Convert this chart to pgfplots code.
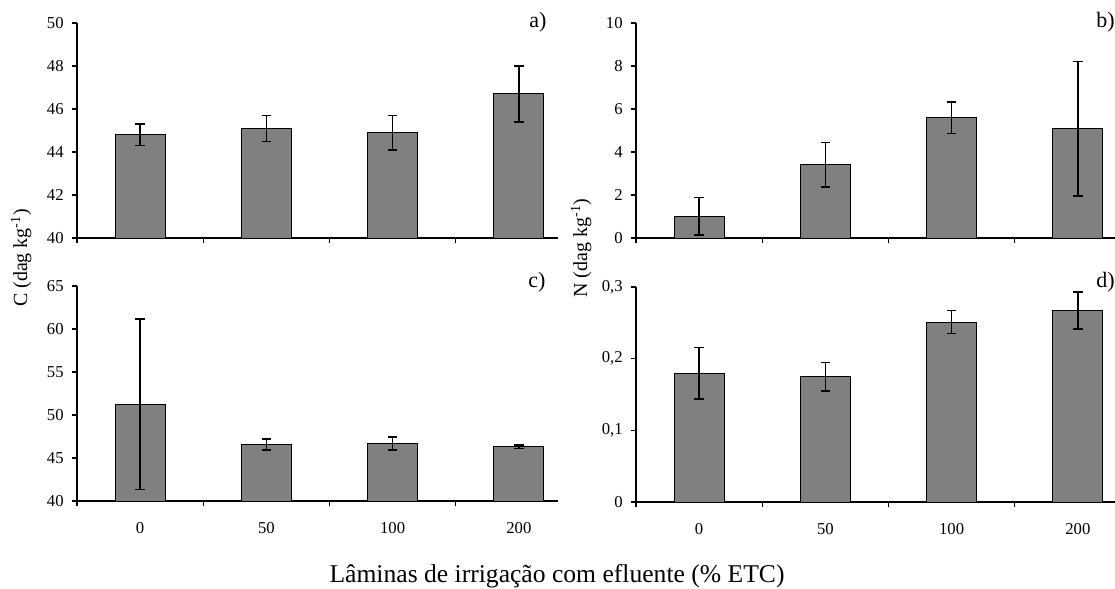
\documentclass[border=0pt]{standalone}
\usepackage{pgfplots}
\pgfplotsset{compat=1.18}
\usepackage{fontspec}
\setmainfont{Liberation Serif}
\definecolor{barfill}{RGB}{128,128,128}
\pgfplotsset{
  panel/.style={
    scale only axis, width=360.75pt, height=161.25pt,
    xmin=-0.5, xmax=3.31,
    axis x line=bottom, axis y line=left,
    axis line style={-, line width=0.9pt, black},
    xtick={0,1,2,3}, major x tick style={draw=none},
    minor xtick={-0.5,0.5,1.5,2.5},
    minor tick length=4pt, major tick length=4pt,
    tick align=outside,
    tick style={black, line width=0.9pt},
    ybar, bar width=37.5pt,
    ticklabel style={font=\fontsize{12.5}{13}\selectfont},
    yticklabel style={xshift=-2.5pt},
    xticklabel style={yshift=-8.5pt},
    /pgf/number format/assume math mode=true,
    anchor=south west,
  },
  bars/.style={
    fill=barfill, draw=black, line width=0.75pt,
    error bars/.cd, y dir=both, y explicit,
    error bar style={line width=1.1pt, black},
    error mark options={rotate=90, mark size=3.6pt, line width=1.1pt, black},
  },
}
\begin{document}
\begin{tikzpicture}
% a)
\begin{axis}[panel, at={(57.75pt,-178.5pt)}, ymin=40, ymax=50, ytick={40,42,...,50}, xticklabels={,,,}]
\addplot[bars] coordinates {(0,44.8) +- (0,0.5) (1,45.1) +- (0,0.6) (2,44.9) +- (0,0.8) (3,46.7) +- (0,1.3)};
\end{axis}
% b)
\begin{axis}[panel, at={(477pt,-178.5pt)}, ymin=0, ymax=10, ytick={0,2,...,10}, xticklabels={,,,}]
\addplot[bars] coordinates {(0,1.02) +- (0,0.87) (1,3.41) +- (0,1.03) (2,5.60) +- (0,0.73) (3,5.08) +- (0,3.13)};
\end{axis}
% c)
\begin{axis}[panel, at={(57.75pt,-375.75pt)}, ymin=40, ymax=65, ytick={40,45,...,65}, xticklabels={0,50,100,200}]
\addplot[bars] coordinates {(0,51.25) +- (0,9.9) (1,46.57) +- (0,0.64) (2,46.68) +- (0,0.75) (3,46.33) +- (0,0.2)};
\end{axis}
% d)
\begin{axis}[panel, at={(477pt,-376.5pt)}, ymin=0, ymax=0.3, ytick={0,0.1,0.2,0.3}, yticklabels={0,{0,1},{0,2},{0,3}}, xticklabels={0,50,100,200}]
\addplot[bars] coordinates {(0,0.1795) +- (0,0.036) (1,0.1748) +- (0,0.02) (2,0.2509) +- (0,0.016) (3,0.2672) +- (0,0.026)};
\end{axis}
\node[rotate=90, anchor=base, font=\fontsize{15}{16}\selectfont] at (20.25pt,-193.5pt) {C (dag kg\textsuperscript{-1})};
\node[rotate=90, anchor=base, font=\fontsize{15}{16}\selectfont] at (440.25pt,-186pt) {N (dag kg\textsuperscript{-1})};
\node[anchor=center, font=\fontsize{16.5}{18}\selectfont] at (403.5pt,-16.5pt) {a)};
\node[anchor=center, font=\fontsize{16.5}{18}\selectfont] at (402.75pt,-211.5pt) {c)};
\node[anchor=west, inner sep=0pt, font=\fontsize{16.5}{18}\selectfont] at (822pt,-16.5pt) {b)};
\node[anchor=west, inner sep=0pt, font=\fontsize{16.5}{18}\selectfont] at (822pt,-211.5pt) {d)};
\node[anchor=base, font=\fontsize{19.2}{21}\selectfont] at (417.75pt,-437pt) {Lâminas de irrigação com efluente (\% ETC)};
\pgfresetboundingbox
\path (0pt,0pt) rectangle (836.25pt,-441.75pt);
\end{tikzpicture}
\end{document}
